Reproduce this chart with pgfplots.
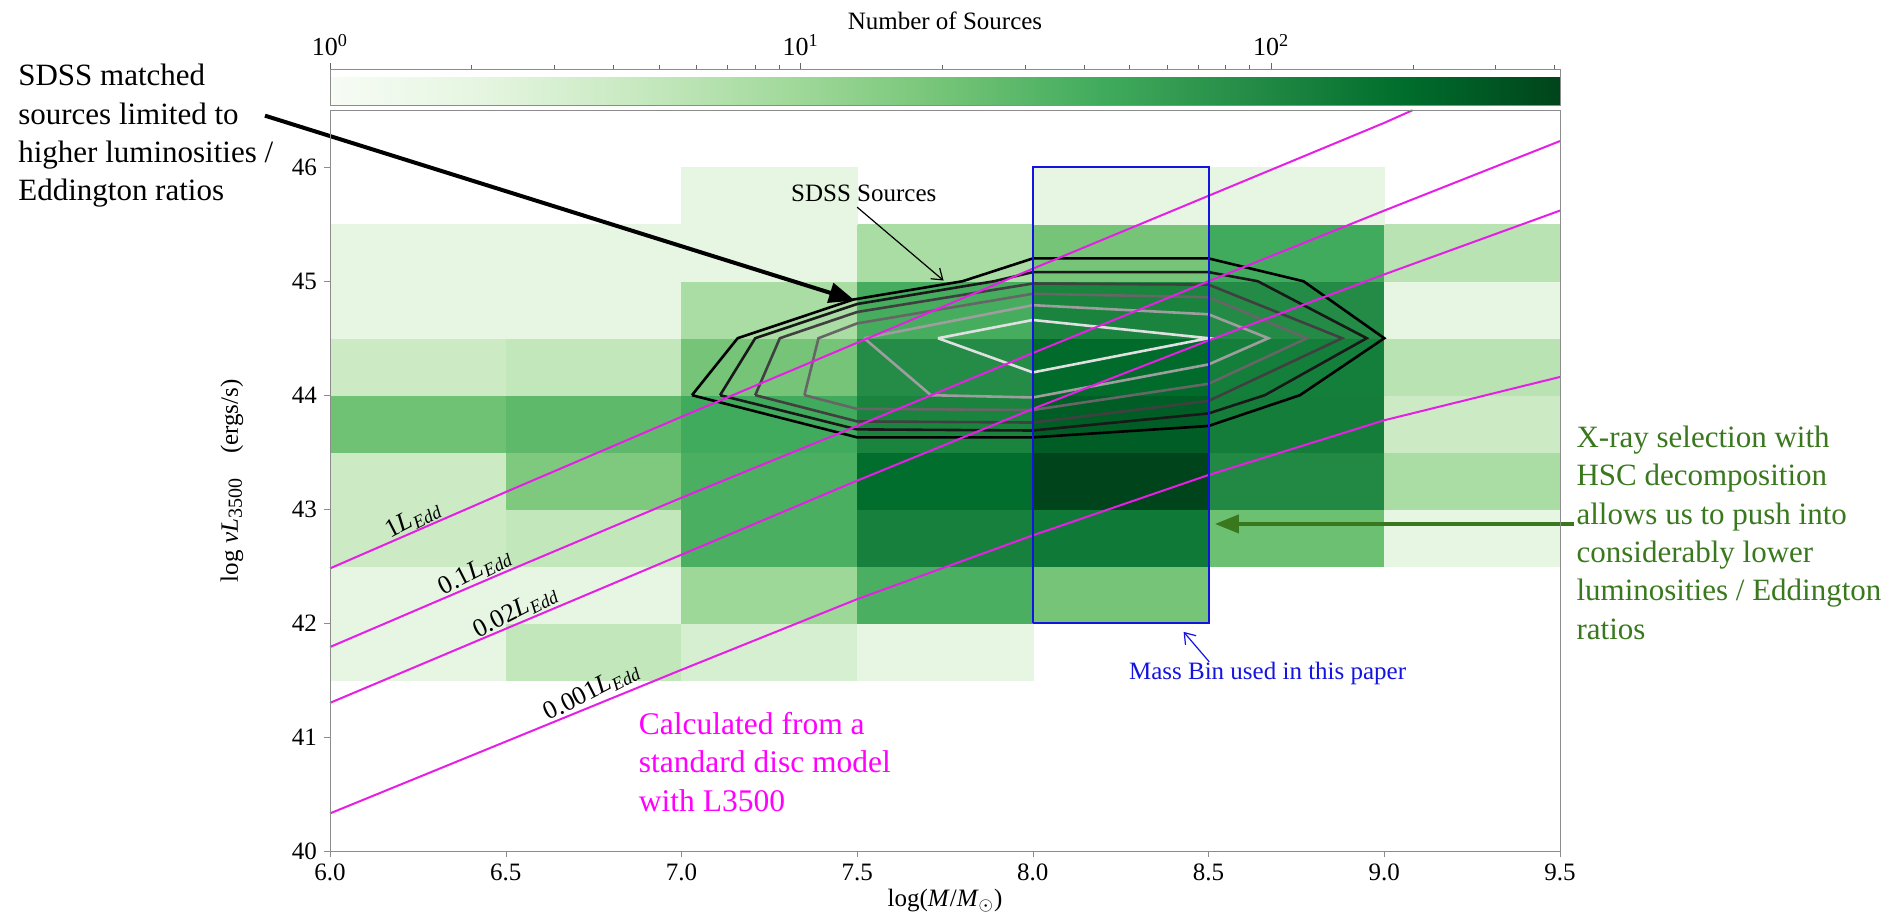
\documentclass[border=0pt]{standalone}
\usepackage{fontspec}
\setmainfont{Liberation Serif}
\usepackage{pgfplots}
\usepackage{pgfplotstable}
\pgfplotsset{compat=1.18}
\usepgfplotslibrary{patchplots}
\usetikzlibrary{arrows.meta}

\definecolor{edd}{RGB}{230,30,230}
\definecolor{discnote}{RGB}{255,0,255}
\definecolor{massbin}{RGB}{20,20,225}
\definecolor{xraygreen}{RGB}{58,120,30}

% 2D histogram of the X-ray sample: the four corners of each 0.5 x 0.5 bin,
% c = number of sources in that bin
\pgfplotstableread[row sep=\\]{
x y c\\
6.0 41.5 2\\ 6.5 41.5 2\\ 6.5 42.0 2\\ 6.0 42.0 2\\
6.5 41.5 5\\ 7.0 41.5 5\\ 7.0 42.0 5\\ 6.5 42.0 5\\
7.0 41.5 3\\ 7.5 41.5 3\\ 7.5 42.0 3\\ 7.0 42.0 3\\
7.5 41.5 2\\ 8.0 41.5 2\\ 8.0 42.0 2\\ 7.5 42.0 2\\
6.0 42.0 2\\ 6.5 42.0 2\\ 6.5 42.5 2\\ 6.0 42.5 2\\
6.5 42.0 2\\ 7.0 42.0 2\\ 7.0 42.5 2\\ 6.5 42.5 2\\
7.0 42.0 10\\ 7.5 42.0 10\\ 7.5 42.5 10\\ 7.0 42.5 10\\
7.5 42.0 38\\ 8.0 42.0 38\\ 8.0 42.5 38\\ 7.5 42.5 38\\
8.0 42.0 20\\ 8.5 42.0 20\\ 8.5 42.5 20\\ 8.0 42.5 20\\
6.0 42.5 4\\ 6.5 42.5 4\\ 6.5 43.0 4\\ 6.0 43.0 4\\
6.5 42.5 5\\ 7.0 42.5 5\\ 7.0 43.0 5\\ 6.5 43.0 5\\
7.0 42.5 38\\ 7.5 42.5 38\\ 7.5 43.0 38\\ 7.0 43.0 38\\
7.5 42.5 120\\ 8.0 42.5 120\\ 8.0 43.0 120\\ 7.5 43.0 120\\
8.0 42.5 140\\ 8.5 42.5 140\\ 8.5 43.0 140\\ 8.0 43.0 140\\
8.5 42.5 23\\ 9.0 42.5 23\\ 9.0 43.0 23\\ 8.5 43.0 23\\
9.0 42.5 2\\ 9.5 42.5 2\\ 9.5 43.0 2\\ 9.0 43.0 2\\
6.0 43.0 4\\ 6.5 43.0 4\\ 6.5 43.5 4\\ 6.0 43.5 4\\
6.5 43.0 17\\ 7.0 43.0 17\\ 7.0 43.5 17\\ 6.5 43.5 17\\
7.0 43.0 38\\ 7.5 43.0 38\\ 7.5 43.5 38\\ 7.0 43.5 38\\
7.5 43.0 190\\ 8.0 43.0 190\\ 8.0 43.5 190\\ 7.5 43.5 190\\
8.0 43.0 411\\ 8.5 43.0 411\\ 8.5 43.5 411\\ 8.0 43.5 411\\
8.5 43.0 95\\ 9.0 43.0 95\\ 9.0 43.5 95\\ 8.5 43.5 95\\
9.0 43.0 8\\ 9.5 43.0 8\\ 9.5 43.5 8\\ 9.0 43.5 8\\
6.0 43.5 22\\ 6.5 43.5 22\\ 6.5 44.0 22\\ 6.0 44.0 22\\
6.5 43.5 28\\ 7.0 43.5 28\\ 7.0 44.0 28\\ 6.5 44.0 28\\
7.0 43.5 43\\ 7.5 43.5 43\\ 7.5 44.0 43\\ 7.0 44.0 43\\
7.5 43.5 110\\ 8.0 43.5 110\\ 8.0 44.0 110\\ 7.5 44.0 110\\
8.0 43.5 260\\ 8.5 43.5 260\\ 8.5 44.0 260\\ 8.0 44.0 260\\
8.5 43.5 130\\ 9.0 43.5 130\\ 9.0 44.0 130\\ 8.5 44.0 130\\
9.0 43.5 4\\ 9.5 43.5 4\\ 9.5 44.0 4\\ 9.0 44.0 4\\
6.0 44.0 4\\ 6.5 44.0 4\\ 6.5 44.5 4\\ 6.0 44.5 4\\
6.5 44.0 5\\ 7.0 44.0 5\\ 7.0 44.5 5\\ 6.5 44.5 5\\
7.0 44.0 20\\ 7.5 44.0 20\\ 7.5 44.5 20\\ 7.0 44.5 20\\
7.5 44.0 90\\ 8.0 44.0 90\\ 8.0 44.5 90\\ 7.5 44.5 90\\
8.0 44.0 200\\ 8.5 44.0 200\\ 8.5 44.5 200\\ 8.0 44.5 200\\
8.5 44.0 125\\ 9.0 44.0 125\\ 9.0 44.5 125\\ 8.5 44.5 125\\
9.0 44.0 6\\ 9.5 44.0 6\\ 9.5 44.5 6\\ 9.0 44.5 6\\
6.0 44.5 2\\ 6.5 44.5 2\\ 6.5 45.0 2\\ 6.0 45.0 2\\
6.5 44.5 2\\ 7.0 44.5 2\\ 7.0 45.0 2\\ 6.5 45.0 2\\
7.0 44.5 8\\ 7.5 44.5 8\\ 7.5 45.0 8\\ 7.0 45.0 8\\
7.5 44.5 40\\ 8.0 44.5 40\\ 8.0 45.0 40\\ 7.5 45.0 40\\
8.0 44.5 110\\ 8.5 44.5 110\\ 8.5 45.0 110\\ 8.0 45.0 110\\
8.5 44.5 91\\ 9.0 44.5 91\\ 9.0 45.0 91\\ 8.5 45.0 91\\
9.0 44.5 2\\ 9.5 44.5 2\\ 9.5 45.0 2\\ 9.0 45.0 2\\
6.0 45.0 2\\ 6.5 45.0 2\\ 6.5 45.5 2\\ 6.0 45.5 2\\
6.5 45.0 2\\ 7.0 45.0 2\\ 7.0 45.5 2\\ 6.5 45.5 2\\
7.0 45.0 2\\ 7.5 45.0 2\\ 7.5 45.5 2\\ 7.0 45.5 2\\
7.5 45.0 8\\ 8.0 45.0 8\\ 8.0 45.5 8\\ 7.5 45.5 8\\
8.0 45.0 20\\ 8.5 45.0 20\\ 8.5 45.5 20\\ 8.0 45.5 20\\
8.5 45.0 43\\ 9.0 45.0 43\\ 9.0 45.5 43\\ 8.5 45.5 43\\
9.0 45.0 6\\ 9.5 45.0 6\\ 9.5 45.5 6\\ 9.0 45.5 6\\
7.0 45.5 2\\ 7.5 45.5 2\\ 7.5 46.0 2\\ 7.0 46.0 2\\
8.0 45.5 2\\ 8.5 45.5 2\\ 8.5 46.0 2\\ 8.0 46.0 2\\
8.5 45.5 2\\ 9.0 45.5 2\\ 9.0 46.0 2\\ 8.5 46.0 2\\
}\cells

\newcommand{\Edd}{\textit{L}\textsubscript{\textit{Edd}}}

\begin{document}
\begin{tikzpicture}
\useasboundingbox (-165pt,-30.5pt) rectangle (783.5pt,425.5pt);
\begin{axis}[
  scale only axis, width=615pt, height=370.35pt,
  xmin=6, xmax=9.5, ymin=40, ymax=46.5,
  clip=false, axis on top,
  xtick={6,6.5,...,9.5}, ytick={40,41,...,46},
  xtick pos=left, ytick pos=left,
  tick align=outside, major tick length=3pt,
  axis line style={black!45}, tick style={black!45},
  /pgf/number format/assume math mode=true,
  tick label style={font=\fontsize{12.5}{14}\selectfont, black},
  x tick label style={/pgf/number format/.cd, fixed, fixed zerofill, precision=1, /tikz/.cd},
  label style={font=\fontsize{12.5}{14}\selectfont},
  xlabel={log(\textit{M}/\textit{M}\textsubscript{$\odot$})},
  xlabel style={at={(axis description cs:0.5,-0.0675)}, anchor=center},
  ylabel={log \textit{νL}\raisebox{-0.35ex}{\fontsize{10}{11}\selectfont 3500}\quad(ergs/s)},
  ylabel style={at={(axis description cs:-0.0797,0.5)}, anchor=center},
  colormap={greens}{rgb255(0cm)=(247,252,245); rgb255(1cm)=(229,245,224);
    rgb255(2cm)=(199,233,192); rgb255(3cm)=(161,217,155); rgb255(4cm)=(116,196,118);
    rgb255(5cm)=(65,171,93); rgb255(6cm)=(35,139,69); rgb255(7cm)=(0,109,44);
    rgb255(8cm)=(0,68,27)},
  point meta min=0, point meta max=2.6138,
  colorbar horizontal,
  colorbar shift/.style={},
  colorbar style={
    at={(parent axis.north west)}, anchor=south west, yshift=2.3pt,
    scale only axis, width=615pt, height=18.35pt,
    axis line style={black!45},
    xtick={0,1,2},
    xticklabels={10\textsuperscript{0},10\textsuperscript{1},10\textsuperscript{2}},
    minor xtick={0.30103,0.47712,0.60206,0.69897,0.77815,0.84510,0.90309,0.95424,
      1.30103,1.47712,1.60206,1.69897,1.77815,1.84510,1.90309,1.95424,
      2.30103,2.47712,2.60206},
    xtick pos=right, xticklabel pos=right,
    tick align=outside, major tick length=3pt, minor tick length=2pt,
    tick style={black!60},
    tick label style={font=\fontsize{13}{14}\selectfont},
    xlabel={Number of Sources},
    xlabel style={at={(axis description cs:0.5,1)}, anchor=center, yshift=24.2pt,
      font=\fontsize{12.5}{14}\selectfont},
  },
]
% source counts per bin
\addplot[patch, patch type=rectangle, shader=faceted, faceted color=mapped color,
  line width=0.2pt, point meta={log10(\thisrow{c})}]
  table[x=x, y=y] {\cells};

% density contours of the SDSS-matched sources
\addplot[black, line width=1.3pt] coordinates {
  (7.03,44.0) (7.16,44.5) (7.49,44.84) (7.80,45.0) (8.0,45.2) (8.5,45.2) (8.77,45.0)
  (9.0,44.5) (8.76,44.0) (8.5,43.73) (8.0,43.63) (7.5,43.63) (7.03,44.0)};
\addplot[black!90, line width=1.3pt] coordinates {
  (7.11,44.0) (7.21,44.5) (7.5,44.80) (7.89,45.0) (8.0,45.08) (8.5,45.08) (8.64,45.0)
  (8.95,44.5) (8.66,44.0) (8.5,43.84) (8.0,43.69) (7.5,43.70) (7.11,44.0)};
\addplot[black!75, line width=1.3pt] coordinates {
  (7.21,44.0) (7.28,44.5) (7.5,44.73) (8.0,44.98) (8.5,44.97) (8.88,44.5)
  (8.5,43.95) (8.0,43.76) (7.5,43.77) (7.21,44.0)};
\addplot[black!60, line width=1.3pt] coordinates {
  (7.35,44.0) (7.39,44.5) (7.5,44.63) (8.0,44.89) (8.5,44.86) (8.78,44.5)
  (8.5,44.10) (8.0,43.87) (7.5,43.88) (7.35,44.0)};
\addplot[black!38, line width=1.3pt] coordinates {
  (7.52,44.5) (8.0,44.79) (8.5,44.71) (8.67,44.5) (8.5,44.27) (8.0,43.98)
  (7.71,44.0) (7.52,44.5)};
\addplot[black!12, line width=1.3pt] coordinates {
  (7.73,44.5) (8.0,44.66) (8.5,44.5) (8.0,44.2) (7.73,44.5)};

% standard disc model at fixed Eddington ratios
\addplot[edd, line width=1pt] coordinates {
  (6.0,42.48) (6.5,43.15) (7.0,43.81) (7.5,44.46) (8.0,45.11) (8.5,45.75) (9.0,46.39) (9.08,46.50)};
\addplot[edd, line width=1pt] coordinates {
  (6.0,41.79) (6.5,42.45) (7.0,43.10) (7.5,43.73) (8.0,44.37) (8.5,45.00) (9.0,45.62) (9.5,46.23)};
\addplot[edd, line width=1pt] coordinates {
  (6.0,41.30) (6.5,41.95) (7.0,42.60) (7.5,43.25) (8.0,43.88) (8.5,44.48) (9.0,45.06) (9.5,45.62)};
\addplot[edd, line width=1pt] coordinates {
  (6.0,40.33) (6.5,40.96) (7.0,41.59) (7.5,42.21) (8.0,42.77) (8.5,43.30) (9.0,43.78) (9.5,44.16)};

% mass bin
\addplot[massbin, line width=1pt] coordinates {(8.0,42.0) (8.5,42.0) (8.5,46.0) (8.0,46.0) (8.0,42.0)};

% line labels
\begin{scope}[font=\fontsize{13}{15}\selectfont]
\node[rotate=27] at (axis cs:6.237,42.911) {1\Edd};
\node[rotate=27] at (axis cs:6.413,42.449) {0.1\Edd};
\node[rotate=27] at (axis cs:6.528,42.098) {0.02\Edd};
\node[rotate=27] at (axis cs:6.745,41.397) {0.001\Edd};
\end{scope}

% annotations
\node[anchor=base, font=\fontsize{12.5}{15}\selectfont] at (axis cs:7.519,45.70) {SDSS Sources};
\draw[line width=0.6pt, -{Straight Barb[length=5pt,width=7pt]}] (axis cs:7.50,45.65) -- (axis cs:7.746,45.006);

\node[anchor=base, massbin, font=\fontsize{12.5}{15}\selectfont] at (axis cs:8.668,41.508) {Mass Bin used in this paper};
\draw[massbin, line width=0.6pt, -{Straight Barb[length=5pt,width=7pt]}] (axis cs:8.502,41.66) -- (axis cs:8.429,41.923);

\node[anchor=north west, align=left, inner sep=0pt, font=\fontsize{15.5}{19.2}\selectfont]
  at (axis cs:5.112,46.909) {SDSS matched\\sources limited to\\higher luminosities /\\Eddington ratios};
\draw[line width=2pt, -{Triangle[length=13pt,width=10pt]}] (axis cs:5.815,46.453) -- (axis cs:7.494,44.83);

\node[anchor=north west, align=left, inner sep=0pt, xraygreen, font=\fontsize{15.5}{19.2}\selectfont]
  at (axis cs:9.546,43.735) {X-ray selection with\\HSC decomposition\\allows us to push into\\considerably lower\\luminosities / Eddington\\ratios};
\draw[xraygreen, line width=2pt, -{Triangle[length=12pt,width=9pt]}] (axis cs:9.540,42.87) -- (axis cs:8.518,42.87);

\node[anchor=north west, align=left, inner sep=0pt, discnote, font=\fontsize{15.75}{19.2}\selectfont]
  at (axis cs:6.878,41.221) {Calculated from a\\standard disc model\\with L3500};
\end{axis}
\end{tikzpicture}
\end{document}
